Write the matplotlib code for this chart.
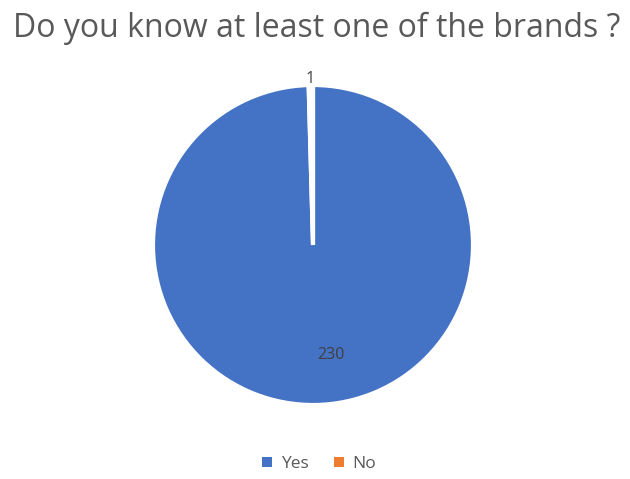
import matplotlib
matplotlib.use("Agg")
import matplotlib.pyplot as plt
from matplotlib.patches import Patch

# survey answers
answers = ["Yes", "No"]
counts = [230, 1]
colors = ["#4472C4", "#ED7D31"]

plt.rcParams["font.family"] = ["Open Sans", "DejaVu Sans"]

fig = plt.figure(figsize=(6.3, 4.79), dpi=100)
fig.patch.set_facecolor("white")

ax = fig.add_axes([153 / 630, (479 - 405) / 479, 320 / 630, 320 / 479])
wedges, _ = ax.pie(
    counts, colors=colors, startangle=90, counterclock=False,
    radius=1.0, wedgeprops=dict(edgecolor="white", linewidth=3),
)
ax.set_xlim(-1, 1)
ax.set_ylim(-1, 1)
ax.set_aspect("equal")
ax.axis("off")

# data labels
ax.text(-0.02, 1.035, str(counts[1]), ha="center", va="center",
        fontsize=11.5, color="#404040", clip_on=False)
ax.text(0.11, -0.69, str(counts[0]), ha="center", va="center",
        fontsize=11.5, color="#404040")

fig.text(0.502, 0.94, "Do you know at least one of the brands ?",
         ha="center", va="center", fontsize=23, color="#595959")

handles = [Patch(facecolor=c, edgecolor="none") for c in colors]
fig.legend(handles, answers, loc="center", bbox_to_anchor=(0.507, 0.031),
           ncol=2, frameon=False, fontsize=12.5, handlelength=0.55,
           handleheight=0.55, handletextpad=0.5, columnspacing=1.5,
           labelcolor="#595959")

fig.savefig("out.png", dpi=100, facecolor="white")
